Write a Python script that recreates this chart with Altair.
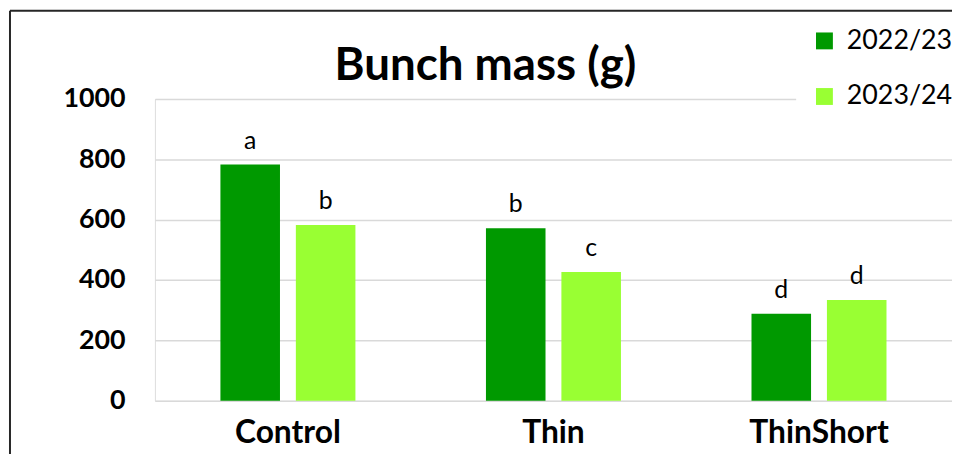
import altair as alt
import pandas as pd

treatments = ["Control", "Thin", "ThinShort"]
seasons = ["2022/23", "2023/24"]
mass_2022 = [783, 572, 288]
mass_2023 = [582, 427, 334]
letters_2022 = ["a", "b", "d"]
letters_2023 = ["b", "c", "d"]
colors = ["#009900", "#99ff33"]
y_ticks = [0, 200, 400, 600, 800, 1000]
chart_title = "Bunch mass (g)"

rows = []
for i, t in enumerate(treatments):
    rows.append({"Treatment": t, "Season": seasons[0], "Mass": mass_2022[i], "Letter": letters_2022[i]})
    rows.append({"Treatment": t, "Season": seasons[1], "Mass": mass_2023[i], "Letter": letters_2023[i]})
df = pd.DataFrame(rows)

FONT = "Lato"

x_enc = alt.X(
    "Treatment:N",
    sort=treatments,
    scale=alt.Scale(paddingInner=0.4916, paddingOuter=0.2467),
    axis=alt.Axis(
        title=None, labelAngle=0, labelFont=FONT, labelFontSize=32, labelFontWeight="bold",
        labelColor="black", labelPadding=17, ticks=False, domain=False, grid=False,
    ),
)
xoff_enc = alt.XOffset("Season:N", sort=seasons, scale=alt.Scale(paddingInner=0.2105, paddingOuter=0))
y_enc = alt.Y(
    "Mass:Q",
    scale=alt.Scale(domain=[0, 1000], nice=False),
    axis=alt.Axis(
        title=None, values=y_ticks, format="d", labelFont=FONT, labelFontSize=27,
        labelFontWeight="bold", labelColor="black", labelPadding=30, ticks=False, domain=False,
        grid=True, gridColor="#d9d9d9", gridWidth=1.5,
    ),
)

bars = alt.Chart(df).mark_bar().encode(
    x=x_enc,
    xOffset=xoff_enc,
    y=y_enc,
    color=alt.Color(
        "Season:N", sort=seasons, scale=alt.Scale(domain=seasons, range=colors),
        legend=alt.Legend(
            title=None, orient="none", legendX=646, legendY=-87, symbolType="square",
            symbolSize=289, symbolStrokeWidth=0, labelFont=FONT, labelFontSize=27,
            labelColor="black", labelOffset=9, rowPadding=28, padding=15, fillColor="white",
        ),
    ),
)

labels = alt.Chart(df).mark_text(
    font=FONT, fontSize=25, color="black", baseline="alphabetic", dy=-16
).encode(
    x=alt.X("Treatment:N", sort=treatments),
    xOffset=alt.XOffset("Season:N", sort=seasons),
    y=alt.Y("Mass:Q"),
    text="Letter:N",
)

title_mark = alt.Chart(alt.Data(values=[{}])).mark_text(
    text=chart_title, font=FONT, fontSize=46, fontWeight="bold", color="black",
    align="center", baseline="alphabetic",
).encode(x=alt.value(333), y=alt.value(-19))

frame_left = alt.Chart(alt.Data(values=[{}])).mark_rule(color="#262626", strokeWidth=2).encode(
    x=alt.value(-146), y=alt.value(-89), y2=alt.value(360)
)
frame_top = alt.Chart(alt.Data(values=[{}])).mark_rule(color="#262626", strokeWidth=2).encode(
    x=alt.value(-146), x2=alt.value(810), y=alt.value(-89)
)

chart = alt.layer(bars, labels, title_mark, frame_left, frame_top).properties(
    width=803,
    height=304,
    autosize=alt.AutoSizeParams(type="none"),
    padding={"left": 148, "top": 90, "right": 0, "bottom": 52},
).configure_view(strokeWidth=0).configure(background="white")

chart.save("out.html", embed_options={"renderer": "svg", "actions": False})
